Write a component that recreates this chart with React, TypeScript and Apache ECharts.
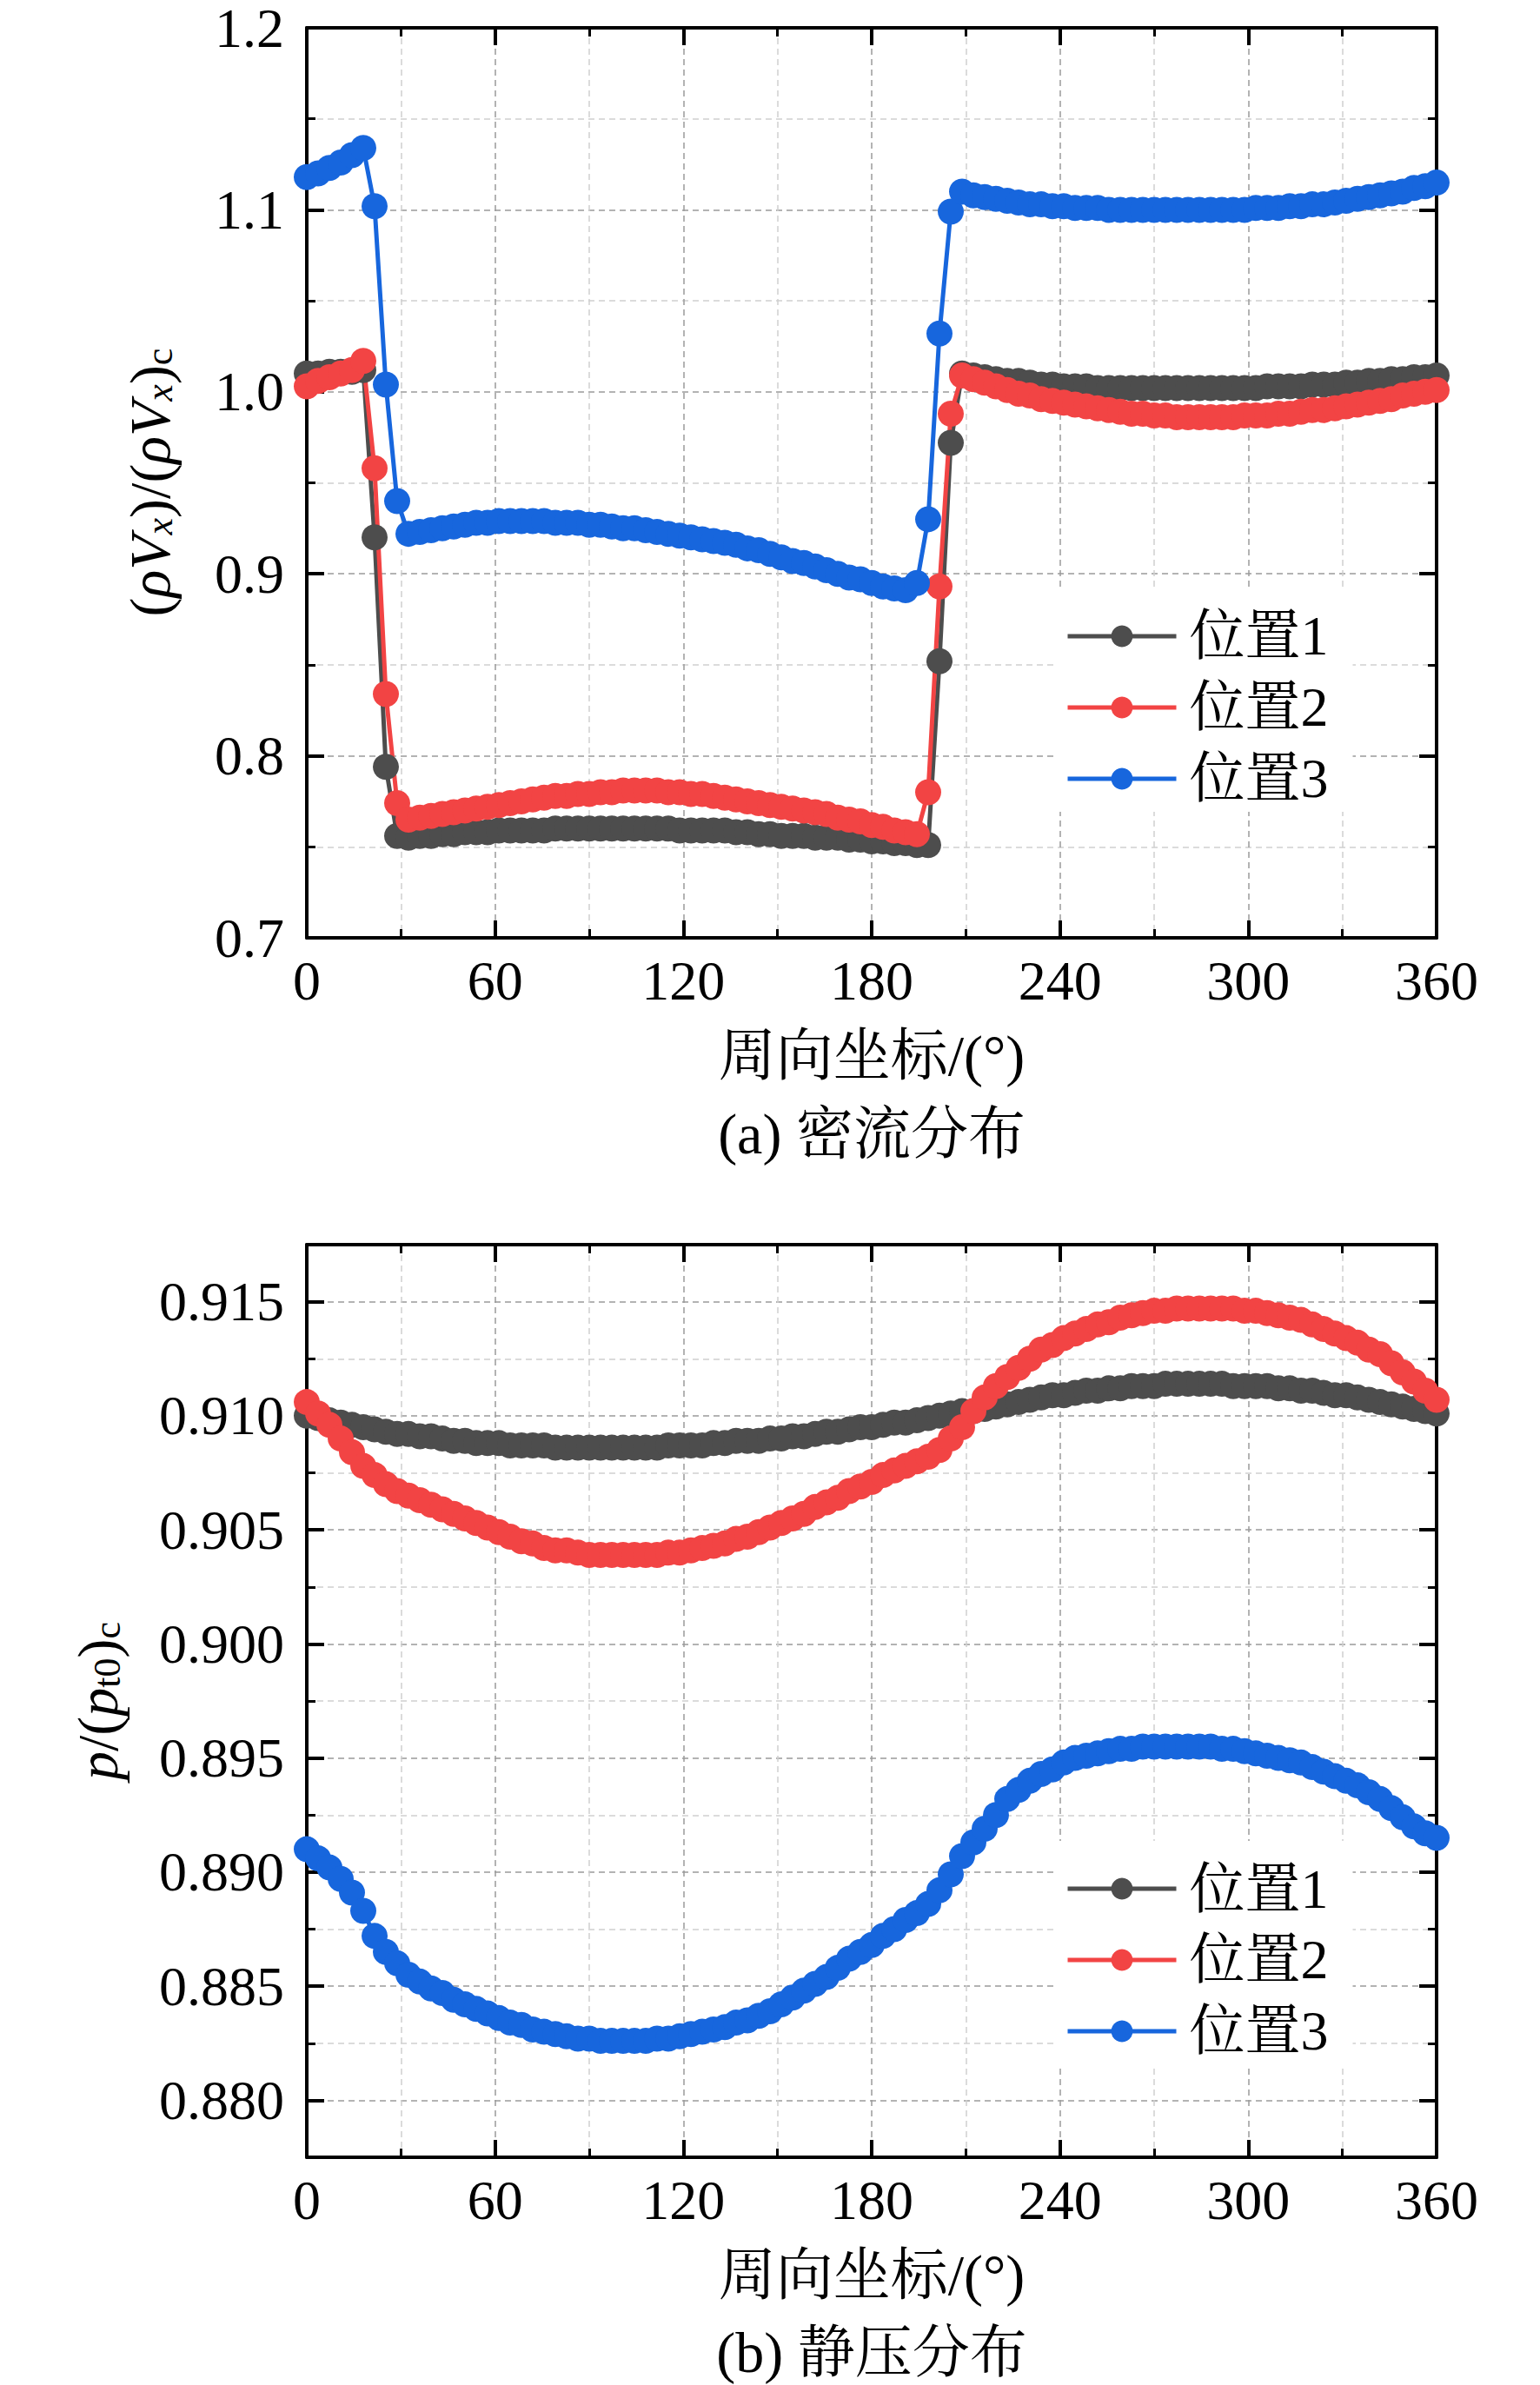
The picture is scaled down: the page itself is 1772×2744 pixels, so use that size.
import React, { useEffect, useRef } from 'react';
import * as echarts from 'echarts';

// circumferential coordinate (deg)
const angles: number[] = [
  0, 3.6, 7.2, 10.8, 14.4, 18, 21.6, 25.2, 28.8, 32.4,
  36, 39.6, 43.2, 46.8, 50.4, 54, 57.6, 61.2, 64.8, 68.4,
  72, 75.6, 79.2, 82.8, 86.4, 90, 93.6, 97.2, 100.8, 104.4,
  108, 111.6, 115.2, 118.8, 122.4, 126, 129.6, 133.2, 136.8, 140.4,
  144, 147.6, 151.2, 154.8, 158.4, 162, 165.6, 169.2, 172.8, 176.4,
  180, 183.6, 187.2, 190.8, 194.4, 198, 201.6, 205.2, 208.8, 212.4,
  216, 219.6, 223.2, 226.8, 230.4, 234, 237.6, 241.2, 244.8, 248.4,
  252, 255.6, 259.2, 262.8, 266.4, 270, 273.6, 277.2, 280.8, 284.4,
  288, 291.6, 295.2, 298.8, 302.4, 306, 309.6, 313.2, 316.8, 320.4,
  324, 327.6, 331.2, 334.8, 338.4, 342, 345.6, 349.2, 352.8, 356.4,
  360,
];

const seriesNames = ['位置1', '位置2', '位置3'];

// (a) mass flux distribution
const flux1: number[] = [
  1.010, 1.010, 1.011, 1.011, 1.011, 1.012, 0.920, 0.794, 0.756, 0.755,
  0.756, 0.756, 0.757, 0.757, 0.758, 0.758, 0.758, 0.759, 0.759, 0.759,
  0.759, 0.759, 0.760, 0.760, 0.760, 0.760, 0.760, 0.760, 0.760, 0.760,
  0.760, 0.760, 0.760, 0.759, 0.759, 0.759, 0.759, 0.759, 0.758, 0.758,
  0.757, 0.757, 0.756, 0.756, 0.756, 0.755, 0.755, 0.755, 0.754, 0.754,
  0.753, 0.753, 0.752, 0.752, 0.751, 0.751, 0.852, 0.972, 1.010, 1.009,
  1.008, 1.007, 1.006, 1.006, 1.005, 1.004, 1.004, 1.003, 1.003, 1.003,
  1.002, 1.002, 1.002, 1.002, 1.002, 1.002, 1.002, 1.002, 1.002, 1.002,
  1.002, 1.002, 1.002, 1.002, 1.002, 1.003, 1.003, 1.003, 1.003, 1.004,
  1.004, 1.004, 1.005, 1.005, 1.006, 1.006, 1.007, 1.007, 1.008, 1.008,
  1.009,
];
const flux2: number[] = [
  1.003, 1.006, 1.008, 1.010, 1.012, 1.017, 0.958, 0.834, 0.774, 0.765,
  0.766, 0.767, 0.768, 0.769, 0.770, 0.771, 0.772, 0.773, 0.774, 0.775,
  0.776, 0.777, 0.778, 0.778, 0.779, 0.779, 0.780, 0.780, 0.781, 0.781,
  0.781, 0.781, 0.780, 0.780, 0.779, 0.779, 0.778, 0.777, 0.776, 0.775,
  0.774, 0.773, 0.772, 0.771, 0.770, 0.769, 0.768, 0.766, 0.765, 0.764,
  0.762, 0.761, 0.759, 0.758, 0.757, 0.780, 0.893, 0.988, 1.009, 1.007,
  1.005, 1.003, 1.001, 0.999, 0.998, 0.996, 0.995, 0.994, 0.993, 0.992,
  0.991, 0.990, 0.989, 0.988, 0.988, 0.987, 0.987, 0.986, 0.986, 0.986,
  0.986, 0.986, 0.986, 0.987, 0.987, 0.987, 0.988, 0.988, 0.989, 0.990,
  0.990, 0.991, 0.992, 0.993, 0.994, 0.995, 0.996, 0.998, 0.999, 1.000,
  1.001,
];
const flux3: number[] = [
  1.118, 1.120, 1.123, 1.126, 1.130, 1.134, 1.102, 1.004, 0.940, 0.922,
  0.923, 0.924, 0.925, 0.926, 0.927, 0.928, 0.928, 0.929, 0.929, 0.929,
  0.929, 0.929, 0.928, 0.928, 0.928, 0.927, 0.927, 0.926, 0.925, 0.925,
  0.924, 0.923, 0.922, 0.921, 0.920, 0.919, 0.918, 0.917, 0.916, 0.914,
  0.913, 0.911, 0.909, 0.907, 0.906, 0.904, 0.902, 0.900, 0.898, 0.897,
  0.895, 0.893, 0.892, 0.891, 0.895, 0.930, 1.032, 1.099, 1.110, 1.108,
  1.107, 1.106, 1.105, 1.104, 1.103, 1.103, 1.102, 1.102, 1.101, 1.101,
  1.101, 1.100, 1.100, 1.100, 1.100, 1.100, 1.100, 1.100, 1.100, 1.100,
  1.100, 1.100, 1.100, 1.100, 1.101, 1.101, 1.101, 1.102, 1.102, 1.103,
  1.103, 1.104, 1.105, 1.106, 1.107, 1.108, 1.109, 1.110, 1.112, 1.113,
  1.115,
];

// (b) static pressure distribution
const press1: number[] = [
  0.9100, 0.9099, 0.9098, 0.9097, 0.9096, 0.9095, 0.9094, 0.9093, 0.9092, 0.9092,
  0.9091, 0.9091, 0.9090, 0.9089, 0.9089, 0.9088, 0.9088, 0.9088, 0.9087, 0.9087,
  0.9087, 0.9087, 0.9086, 0.9086, 0.9086, 0.9086, 0.9086, 0.9086, 0.9086, 0.9086,
  0.9086, 0.9086, 0.9087, 0.9087, 0.9087, 0.9087, 0.9088, 0.9088, 0.9089, 0.9089,
  0.9089, 0.9090, 0.9090, 0.9091, 0.9091, 0.9092, 0.9093, 0.9093, 0.9094, 0.9095,
  0.9095, 0.9096, 0.9097, 0.9097, 0.9098, 0.9099, 0.9100, 0.9101, 0.9102, 0.9102,
  0.9103, 0.9104, 0.9105, 0.9106, 0.9107, 0.9108, 0.9109, 0.9109, 0.9110, 0.9111,
  0.9111, 0.9112, 0.9112, 0.9113, 0.9113, 0.9113, 0.9114, 0.9114, 0.9114, 0.9114,
  0.9114, 0.9114, 0.9113, 0.9113, 0.9113, 0.9113, 0.9112, 0.9112, 0.9111, 0.9111,
  0.9110, 0.9109, 0.9109, 0.9108, 0.9107, 0.9106, 0.9105, 0.9104, 0.9103, 0.9102,
  0.9101,
];
const press2: number[] = [
  0.9106, 0.9101, 0.9096, 0.9090, 0.9084, 0.9078, 0.9074, 0.9070, 0.9067, 0.9065,
  0.9063, 0.9061, 0.9059, 0.9057, 0.9055, 0.9053, 0.9051, 0.9049, 0.9047, 0.9045,
  0.9044, 0.9042, 0.9041, 0.9041, 0.9040, 0.9039, 0.9039, 0.9039, 0.9039, 0.9039,
  0.9039, 0.9039, 0.9040, 0.9040, 0.9041, 0.9042, 0.9043, 0.9044, 0.9046, 0.9047,
  0.9049, 0.9051, 0.9053, 0.9055, 0.9057, 0.9060, 0.9062, 0.9064, 0.9067, 0.9069,
  0.9071, 0.9074, 0.9076, 0.9078, 0.9080, 0.9082, 0.9085, 0.9090, 0.9095, 0.9102,
  0.9108, 0.9113, 0.9117, 0.9121, 0.9125, 0.9129, 0.9131, 0.9134, 0.9136, 0.9138,
  0.9140, 0.9141, 0.9143, 0.9144, 0.9145, 0.9146, 0.9146, 0.9147, 0.9147, 0.9147,
  0.9147, 0.9147, 0.9147, 0.9146, 0.9146, 0.9145, 0.9144, 0.9143, 0.9142, 0.9140,
  0.9138, 0.9136, 0.9134, 0.9132, 0.9129, 0.9127, 0.9123, 0.9119, 0.9115, 0.9111,
  0.9107,
];
const press3: number[] = [
  0.8910, 0.8906, 0.8902, 0.8897, 0.8891, 0.8883, 0.8872, 0.8865, 0.8860, 0.8855,
  0.8852, 0.8849, 0.8847, 0.8844, 0.8842, 0.8840, 0.8838, 0.8836, 0.8834, 0.8833,
  0.8831, 0.8830, 0.8829, 0.8828, 0.8827, 0.8827, 0.8826, 0.8826, 0.8826, 0.8826,
  0.8826, 0.8827, 0.8827, 0.8828, 0.8829, 0.8830, 0.8831, 0.8832, 0.8834, 0.8835,
  0.8837, 0.8839, 0.8842, 0.8845, 0.8848, 0.8851, 0.8854, 0.8858, 0.8862, 0.8865,
  0.8868, 0.8872, 0.8875, 0.8879, 0.8882, 0.8886, 0.8892, 0.8899, 0.8907, 0.8913,
  0.8919, 0.8925, 0.8932, 0.8936, 0.8940, 0.8943, 0.8945, 0.8948, 0.8950, 0.8951,
  0.8952, 0.8953, 0.8954, 0.8954, 0.8955, 0.8955, 0.8955, 0.8955, 0.8955, 0.8955,
  0.8955, 0.8954, 0.8954, 0.8953, 0.8952, 0.8951, 0.8950, 0.8949, 0.8948, 0.8946,
  0.8944, 0.8942, 0.8940, 0.8938, 0.8935, 0.8932, 0.8928, 0.8924, 0.8920, 0.8917,
  0.8915,
];

const pressMajorTicks: number[] = [0.88, 0.885, 0.89, 0.895, 0.9, 0.905, 0.91, 0.915];

const colors = ['#4d4d4d', '#f24444', '#1766dd'];
const SERIF = "'Liberation Serif', 'Times New Roman', 'Noto Serif CJK SC', 'Noto Sans CJK SC', serif";
const TICK_FONT = 64;
const SYMBOL = 30;
const LINE_W = 5;

const majorGrid = { color: '#9a9a9a', width: 1.5, type: [7, 5] as number[] };
const minorGrid = { color: '#d0d0d0', width: 1.5, type: [7, 5] as number[] };

function xAxes(gridIndex: number) {
  const common = {
    type: 'value', gridIndex, min: 0, max: 360, interval: 60,
    axisLine: { show: true, onZero: false, lineStyle: { color: '#000', width: 4 } },
    axisTick: { show: true, inside: true, length: 20, lineStyle: { color: '#000', width: 4 } },
    minorTick: { show: true, splitNumber: 2, length: 10, lineStyle: { color: '#000', width: 3 } },
  };
  return [
    {
      ...common, position: 'bottom',
      axisLabel: { show: true, fontSize: TICK_FONT, fontFamily: SERIF, color: '#000', margin: 17 },
      splitLine: { show: true, lineStyle: majorGrid },
      minorSplitLine: { show: true, lineStyle: minorGrid },
    },
    {
      ...common, position: 'top',
      axisLabel: { show: false }, splitLine: { show: false }, minorSplitLine: { show: false },
    },
  ];
}

function fluxYAxes() {
  const common = {
    type: 'value', gridIndex: 0, min: 0.7, max: 1.2, interval: 0.1,
    axisLine: { show: true, onZero: false, lineStyle: { color: '#000', width: 4 } },
    axisTick: { show: true, inside: true, length: 20, lineStyle: { color: '#000', width: 4 } },
    minorTick: { show: true, splitNumber: 2, length: 10, lineStyle: { color: '#000', width: 3 } },
  };
  return [
    {
      ...common, position: 'left',
      axisLabel: {
        show: true, fontSize: TICK_FONT, lineHeight: 54, fontFamily: SERIF, color: '#000', margin: 26,
        formatter: (v: number) => v.toFixed(1),
      },
      splitLine: { show: true, lineStyle: majorGrid },
      minorSplitLine: { show: true, lineStyle: minorGrid },
    },
    {
      ...common, position: 'right',
      axisLabel: { show: false }, splitLine: { show: false }, minorSplitLine: { show: false },
    },
  ];
}

function pressYAxes() {
  const base = { type: 'value', gridIndex: 1, min: 0.8775, max: 0.9175, interval: 0.0025 };
  const isMajor = (v: number) => Math.abs(v * 200 - Math.round(v * 200)) < 1e-6;
  return [
    {
      ...base, position: 'left',
      axisLine: { show: true, onZero: false, lineStyle: { color: '#000', width: 4 } },
      axisTick: { show: true, inside: true, length: 10, lineStyle: { color: '#000', width: 3 } },
      axisLabel: {
        show: true, fontSize: TICK_FONT, fontFamily: SERIF, color: '#000', margin: 26,
        showMinLabel: true, showMaxLabel: true,
        formatter: (v: number) => (isMajor(v) ? v.toFixed(3) : ''),
      },
      splitLine: { show: true, lineStyle: { ...minorGrid, color: [minorGrid.color, majorGrid.color] } },
    },
    {
      ...base, position: 'left',
      axisLine: { show: false, onZero: false },
      axisTick: { show: true, inside: true, length: 20, customValues: pressMajorTicks, lineStyle: { color: '#000', width: 4 } },
      axisLabel: { show: false }, splitLine: { show: false },
    },
    {
      ...base, position: 'right',
      axisLine: { show: true, onZero: false, lineStyle: { color: '#000', width: 4 } },
      axisTick: { show: true, inside: true, length: 10, lineStyle: { color: '#000', width: 3 } },
      axisLabel: { show: false }, splitLine: { show: false },
    },
    {
      ...base, position: 'right',
      axisLine: { show: false, onZero: false },
      axisTick: { show: true, inside: true, length: 20, customValues: pressMajorTicks, lineStyle: { color: '#000', width: 4 } },
      axisLabel: { show: false }, splitLine: { show: false },
    },
  ];
}

function makeSeries(values: number[][], xAxisIndex: number, yAxisIndex: number) {
  return values.map((vals, k) => ({
    type: 'line',
    name: seriesNames[k],
    xAxisIndex,
    yAxisIndex,
    data: angles.map((a, i) => [a, vals[i]]),
    symbol: 'circle',
    symbolSize: SYMBOL,
    showSymbol: true,
    color: colors[k],
    lineStyle: { width: LINE_W, color: colors[k] },
    itemStyle: { color: colors[k] },
  }));
}

function legend(top: number) {
  return {
    orient: 'vertical',
    left: 1212,
    top,
    padding: [23, 28, 6, 14],
    itemWidth: 125,
    itemHeight: 31,
    itemGap: 18,
    backgroundColor: '#ffffff',
    data: seriesNames,
    lineStyle: { width: LINE_W },
    textStyle: { fontSize: 64, lineHeight: 62, fontFamily: SERIF, color: '#000', padding: [0, 0, 0, 10] },
  };
}

const subStyles = {
  n: { fontSize: 66, fontFamily: SERIF, fill: '#000', lineHeight: 66 },
  i: { fontSize: 66, fontFamily: SERIF, fontStyle: 'italic', fill: '#000', lineHeight: 66 },
  si: { fontSize: 44, fontFamily: SERIF, fontStyle: 'italic', fill: '#000', lineHeight: 24, verticalAlign: 'bottom' },
  s: { fontSize: 44, fontFamily: SERIF, fill: '#000', lineHeight: 24, verticalAlign: 'bottom' },
};

function text(x: number, y: number, t: string, size: number) {
  return {
    type: 'text', x, y, silent: true,
    style: { text: t, fontSize: size, fontFamily: SERIF, fill: '#000', align: 'center', verticalAlign: 'middle' },
  };
}

const option = {
  animation: false,
  backgroundColor: '#ffffff',
  grid: [
    { left: 353, top: 32, width: 1300, height: 1047 },
    { left: 353, top: 1432, width: 1300, height: 1050 },
  ],
  xAxis: [...xAxes(0), ...xAxes(1)],
  yAxis: [...fluxYAxes(), ...pressYAxes()],
  legend: [legend(677), legend(2118)],
  series: [
    ...makeSeries([flux1, flux2, flux3], 0, 0),
    ...makeSeries([press1, press2, press3], 2, 2),
  ],
  graphic: [
    {
      type: 'text', x: 172, y: 555, rotation: Math.PI / 2, silent: true,
      style: {
        text: '{n|(}{i|ρV}{si|x}{n|)/(}{i|ρV}{si|x}{n|)}{s|c}',
        rich: subStyles, align: 'center', verticalAlign: 'middle', fontSize: 66, fontFamily: SERIF, fill: '#000',
      },
    },
    {
      type: 'text', x: 112, y: 1957, rotation: Math.PI / 2, silent: true,
      style: {
        text: '{i|p}{n|/(}{i|p}{s|t0}{n|)}{s|c}',
        rich: subStyles, align: 'center', verticalAlign: 'middle', fontSize: 66, fontFamily: SERIF, fill: '#000',
      },
    },
    text(1003, 1214, '周向坐标/(°)', 66),
    text(1003, 1304, '(a) 密流分布', 66),
    text(1003, 2617, '周向坐标/(°)', 66),
    text(1003, 2706, '(b) 静压分布', 66),
  ],
};

export default function App() {
  const ref = useRef<HTMLDivElement>(null);
  useEffect(() => {
    if (!ref.current) return;
    const chart = echarts.init(ref.current, null, { renderer: 'svg' });
    chart.setOption(option as any);
    return () => chart.dispose();
  }, []);
  return (
    <div
      ref={ref}
      style={{ position: 'absolute', left: 0, top: 0, width: 1772, height: 2744, background: '#fff' }}
    />
  );
}
